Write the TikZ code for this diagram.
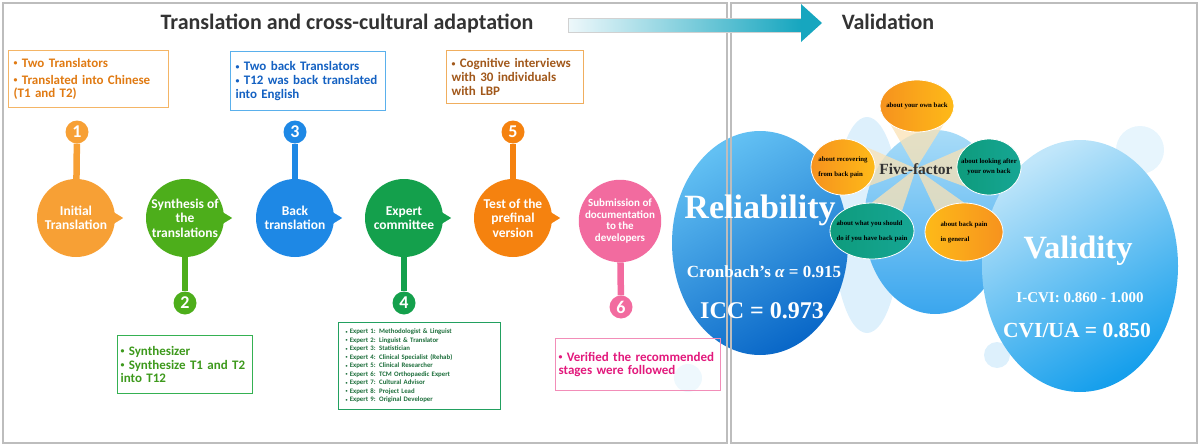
\documentclass[tikz,border=0pt]{standalone}
\usepackage{fontspec}
\setmainfont{Carlito}
\newfontfamily\timesbf{Liberation Serif}
\usetikzlibrary{shapes.geometric}

\newcommand{\fs}[2]{\fontsize{#1}{#2}\selectfont}
\newcommand{\bul}{\raisebox{0.12em}{\scalebox{0.6}{•}}}

\definecolor{frameGray}{HTML}{BDBDBD}
\definecolor{titleGray}{HTML}{333333}
\definecolor{arrowTeal}{HTML}{16A6BF}
\definecolor{arrowPale}{HTML}{EEF8FB}
\definecolor{orOne}{HTML}{F7A035}
\definecolor{orOneBox}{HTML}{F4B566}
\definecolor{orOneTxt}{HTML}{E07A12}
\definecolor{grTwo}{HTML}{4DAE1B}
\definecolor{grTwoBox}{HTML}{35B152}
\definecolor{grTwoTxt}{HTML}{3D991C}
\definecolor{blThree}{HTML}{1E88E5}
\definecolor{blThreeBox}{HTML}{5AB0EC}
\definecolor{blThreeTxt}{HTML}{1461C2}
\definecolor{grFour}{HTML}{14A04C}
\definecolor{grFourBox}{HTML}{22A060}
\definecolor{grFourTxt}{HTML}{1D6E3B}
\definecolor{orFive}{HTML}{F5820F}
\definecolor{orFiveBox}{HTML}{F0AE5E}
\definecolor{orFiveTxt}{HTML}{A1581B}
\definecolor{pkSix}{HTML}{F26B9F}
\definecolor{pkSixBox}{HTML}{F28DB8}
\definecolor{pkSixTxt}{HTML}{E2197C}
\definecolor{relLight}{HTML}{62C0F3}
\definecolor{relDark}{HTML}{0A68C8}
\definecolor{midLight}{HTML}{A9DCF8}
\definecolor{midDark}{HTML}{3AA6EE}
\definecolor{valLight}{HTML}{C0E6FA}
\definecolor{valDark}{HTML}{169FEC}
\definecolor{bubbleBlue}{HTML}{DDF0FC}
\definecolor{facOrA}{HTML}{F6921E}
\definecolor{facOrB}{HTML}{FEBA18}
\definecolor{facTlA}{HTML}{0E9B7C}
\definecolor{facTlB}{HTML}{16A694}
\definecolor{rayPale}{HTML}{FBE2B4}

\pgfdeclarelayer{back}
\pgfdeclarelayer{rays}
\pgfsetlayers{back,rays,main}

\begin{document}
\begin{tikzpicture}[x=1pt,y=-1pt,
	panel/.style={draw=frameGray,line width=1.3pt},
	stepcirc/.style={circle,minimum size=78pt,inner sep=0pt,text=white,align=center,font=\bfseries\fs{13.5}{14.5}},
	numcirc/.style={circle,minimum size=23pt,inner sep=0pt,text=white,font=\bfseries\fs{18}{18}},
	stem/.style={line width=6.5pt},
	infobox/.style={draw,line width=1.2pt,anchor=north west,align=left,inner xsep=5pt,inner ysep=2pt,font=\bfseries\fs{13}{13.8}},
	bigell/.style={ellipse,inner sep=0pt},
	factor/.style={ellipse,draw=white,line width=0.8pt,inner sep=0pt},
	factxt/.style={align=left,font=\timesbf\bfseries\fs{6.8}{15}},
	ray/.style={fill=rayPale,opacity=0.75},
	valtext/.style={text=white,anchor=base}
]
	\useasboundingbox (0,0) rectangle (1200,447);
	\draw[panel] (3,3) rectangle (727,443);
	\draw[panel] (731,3) rectangle (1197,443);

	\node[anchor=base,text=titleGray,font=\bfseries\fs{22}{24}] (ttlA) at (347,29) {Translation and cross-cultural adaptation};
	\node[anchor=base,text=titleGray,font=\bfseries\fs{22}{24}] (ttlB) at (888,29) {Validation};
	\shade[left color=arrowPale,right color=arrowTeal,draw=frameGray!70,line width=0.4pt] (568,18) rectangle (801,32);
	\fill[arrowTeal] (801,4) -- (822,23) -- (801,42) -- cycle;

	% steps
	\node[stepcirc,fill=orOne] (c1) at (76,218) {Initial\\Translation};
	\node[numcirc,fill=orOne] (n1) at (77,132) {1};
	\draw[stem,orOne] (n1) -- (c1);
	\fill[orOne] (c1.east) ++(-5,-8) -- ++(13,8) -- ++(-13,8) -- cycle;

	\node[stepcirc,fill=grTwo] (c2) at (185,218) {Synthesis of\\the\\translations};
	\node[numcirc,fill=grTwo] (n2) at (185,303) {2};
	\draw[stem,grTwo] (n2) -- (c2);
	\fill[grTwo] (c2.east) ++(-5,-8) -- ++(13,8) -- ++(-13,8) -- cycle;

	\node[stepcirc,fill=blThree] (c3) at (295,218) {Back\\translation};
	\node[numcirc,fill=blThree] (n3) at (295,132) {3};
	\draw[stem,blThree] (n3) -- (c3);
	\fill[blThree] (c3.east) ++(-5,-8) -- ++(13,8) -- ++(-13,8) -- cycle;

	\node[stepcirc,fill=grFour] (c4) at (404,218) {Expert\\committee};
	\node[numcirc,fill=grFour] (n4) at (404,303) {4};
	\draw[stem,grFour] (n4) -- (c4);
	\fill[grFour] (c4.east) ++(-5,-8) -- ++(13,8) -- ++(-13,8) -- cycle;

	\node[stepcirc,fill=orFive] (c5) at (513,218) {Test of the\\prefinal\\version};
	\node[numcirc,fill=orFive] (n5) at (513,132) {5};
	\draw[stem,orFive] (n5) -- (c5);
	\fill[orFive] (c5.east) ++(-5,-8) -- ++(13,8) -- ++(-13,8) -- cycle;

	\node[stepcirc,fill=pkSix,font=\bfseries\fs{11}{11.5}] (c6) at (620,221) {Submission of\\documentation\\to the\\developers};
	\node[numcirc,fill=pkSix] (n6) at (621,307) {6};
	\draw[stem,pkSix] (n6) -- (c6);

	% boxes
	\node[infobox,draw=orOneBox,text=orOneTxt,text width=150pt,minimum height=57pt] (b1) at (8,50)
		{\bul{} Two Translators\\[3pt]\bul{} Translated into Chinese\\(T1 and T2)};
	\node[infobox,draw=blThreeBox,text=blThreeTxt,text width=145pt,minimum height=59pt] (b3) at (230,51)
		{\bul{} Two back Translators\\\bul{} T12 was back translated\\into English};
	\node[infobox,draw=orFiveBox,text=orFiveTxt,text width=127pt,minimum height=53pt] (b5) at (446,50)
		{\bul{} Cognitive interviews\\with 30 individuals\\with LBP};
	\node[infobox,draw=grTwoBox,text=grTwoTxt,inner xsep=3pt,text width=129pt,minimum height=58pt] (b2) at (117,335)
		{\bul{} Synthesizer\\\bul{} Synthesize T1 and T2\\into T12};
	\node[infobox,draw=grFourBox,text=grFourTxt,inner xsep=7pt,text width=148pt,minimum height=87pt,font=\bfseries\fs{6.8}{8.5}] (b4) at (338,322)
		{\bul{} Expert 1: Methodologist \& Linguist\\\bul{} Expert 2: Linguist \& Translator\\\bul{} Expert 3: Statistician\\\bul{} Expert 4: Clinical Specialist (Rehab)\\\bul{} Expert 5: Clinical Researcher\\\bul{} Expert 6: TCM Orthopaedic Expert\\\bul{} Expert 7: Cultural Advisor\\\bul{} Expert 8: Project Lead\\\bul{} Expert 9: Original Developer};
	\node[infobox,draw=pkSixBox,text=pkSixTxt,inner xsep=3pt,text width=159pt,minimum height=52pt] (b6) at (555,338)
		{\bul{} Verified the recommended\\stages were followed};

	% validation
	\begin{pgfonlayer}{back}
		\fill[bubbleBlue] (867,225) ellipse[x radius=34pt,y radius=108pt];
		\fill[bubbleBlue!70] (1140,150) circle[radius=24pt];
		\fill[bubbleBlue] (997,355) circle[radius=13pt];
		\fill[bubbleBlue!50] (688,378) circle[radius=14pt];
		\node[bigell,minimum width=142pt,minimum height=184pt,top color=midLight,bottom color=midDark] (mid) at (935,222) {};
		\node[bigell,minimum width=176pt,minimum height=224pt,top color=relLight,bottom color=relDark,shading angle=30] (rel) at (760,243) {};
		\node[bigell,minimum width=196pt,minimum height=252pt,top color=valLight,bottom color=valDark,shading angle=30] (val) at (1080,266) {};
	\end{pgfonlayer}

	\node[factor,left color=facOrA,right color=facOrB,minimum width=74pt,minimum height=52pt,
		label={[factxt]center:about your own back}] (fOwn) at (917,106) {};
	\node[factor,left color=facOrA,right color=facOrB,minimum width=64pt,minimum height=56pt,
		label={[factxt]center:about recovering\\from back pain}] (fRec) at (843,167) {};
	\node[factor,left color=facTlA,right color=facTlB,minimum width=64pt,minimum height=56pt,
		label={[factxt,align=center,font=\timesbf\bfseries\fs{6.8}{10}]center:about looking after\\your own back}] (fLook) at (989,167) {};
	\node[factor,left color=facTlA,right color=facTlB,minimum width=84pt,minimum height=56pt,
		label={[factxt]center:about what you should\\do if you have back pain}] (fWhat) at (872,231) {};
	\node[factor,left color=facOrB,right color=facOrA,minimum width=78pt,minimum height=58pt,
		label={[factxt]center:about back pain\\in general}] (fGen) at (964,232) {};
	\node[anchor=base,text=black!80,font=\timesbf\bfseries\fs{15.5}{16}] (ff) at (916,174) {Five-factor};

	\begin{pgfonlayer}{rays}
		\fill[ray] (ff.center) -- (fOwn.south west) -- (fOwn.south east) -- cycle;
		\fill[ray] (ff.center) -- (fRec.north east) -- (fRec.south east) -- cycle;
		\fill[ray] (ff.center) -- (fLook.north west) -- (fLook.south west) -- cycle;
		\fill[ray] (ff.center) -- (fWhat.north) -- (fWhat.north east) -- cycle;
		\fill[ray] (ff.center) -- (fGen.north west) -- (fGen.north) -- cycle;
	\end{pgfonlayer}

	\node[valtext,font=\timesbf\bfseries\fs{34}{34}] (relT) at (760,218) {Reliability};
	\node[valtext,font=\timesbf\bfseries\fs{17}{17}] (cronT) at (764,277) {Cronbach’s {\itshape α} = 0.915};
	\node[valtext,font=\timesbf\bfseries\fs{24}{24}] (iccT) at (762,318) {ICC = 0.973};
	\node[valtext,font=\timesbf\bfseries\fs{32.5}{33}] (valT) at (1078,258) {Validity};
	\node[valtext,font=\timesbf\bfseries\fs{15}{15}] (icviT) at (1080,302) {I-CVI: 0.860 - 1.000};
	\node[valtext,font=\timesbf\bfseries\fs{21.5}{22}] (cviT) at (1077,337) {CVI/UA = 0.850};
\end{tikzpicture}
\end{document}
